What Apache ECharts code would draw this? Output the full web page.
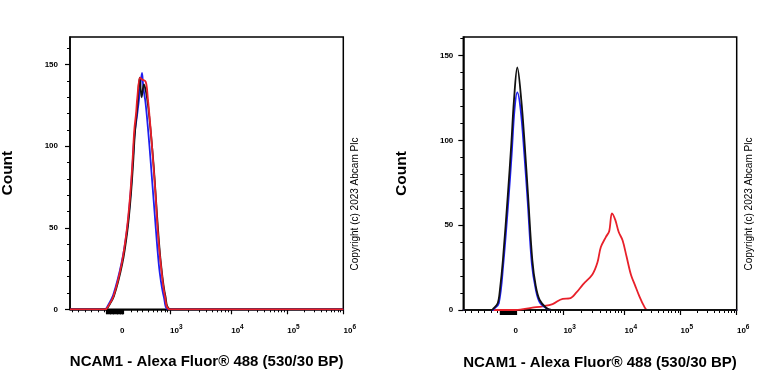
<!DOCTYPE html>
<html><head><meta charset="utf-8">
<script src="https://cdn.jsdelivr.net/npm/echarts@6/dist/echarts.min.js"></script>
<style>html,body{margin:0;padding:0;background:#fff}#c{width:768px;height:384px}</style>
</head><body><div id="c"></div>
<script>
// ---- Axis definitions (x in biexponential display units, 1 unit ≈ one decade) ----
const xTickLabels = ['0', '3', '4', '5', '6'];          // '0' and exponents of 10
const xTickPos = [0, 0.848, 1.94, 2.94, 3.946];
const xRange = [-0.934, 3.946];
const xLinearMinor = [-0.902, -0.786, -0.67, -0.554, -0.438, -0.321, 0.152, 0.259, 0.357, 0.455, 0.545, 0.625, 0.7, 0.759, 0.804];
const yMajor = [0, 50, 100, 150];
const yMinor = [10, 20, 30, 40, 60, 70, 80, 90, 110, 120, 130, 140, 160];
const yMaxLeft = 167, yMaxRight = 161;
const xTitle = 'NCAM1 - Alexa Fluor® 488 (530/30 BP)';
const yTitle = 'Count';
const copyright = 'Copyright (c) 2023 Abcam Plc';

// ---- Left panel histograms [position, count] ----
const leftRed = [[-0.934,0],[-0.3,0],[-0.279,0.5],[-0.161,7.7],[-0.011,28],[0.079,48.5],[0.138,69],[0.179,89],[0.214,110],[0.245,120],[0.268,130],[0.316,142],[0.352,141],[0.418,139.5],[0.454,130],[0.507,110],[0.554,89],[0.596,69],[0.632,48.5],[0.686,28],[0.763,7.7],[0.852,0],[3.946,0]];
const leftBlue = [[-0.934,0],[-0.31,0],[-0.27,1.5],[-0.16,9],[-0.01,29],[0.085,49],[0.145,70],[0.185,90],[0.22,108],[0.26,118],[0.295,128],[0.33,140],[0.352,145],[0.375,136],[0.41,128],[0.44,118],[0.485,100],[0.53,80],[0.575,60],[0.62,40],[0.67,22],[0.745,7],[0.83,0],[3.946,0]];
const leftBlack = [[-0.934,0],[-0.29,0],[-0.26,1],[-0.15,8],[0,28],[0.09,48],[0.148,68],[0.19,88],[0.225,108],[0.27,125],[0.31,142],[0.345,130],[0.385,138],[0.42,134],[0.46,125],[0.51,108],[0.56,88],[0.60,68],[0.64,48],[0.69,28],[0.77,8],[0.86,0],[3.946,0]];

// ---- Right panel histograms [position, count] ----
const rightBlack = [[-0.934,0],[-0.43,0],[-0.405,0.5],[-0.32,4],[-0.28,12],[-0.227,29.4],[-0.1375,68.6],[-0.077,98],[-0.03,123.5],[0.03,143],[0.102,123.5],[0.161,98],[0.22,68.6],[0.298,29.4],[0.36,14],[0.429,5.9],[0.548,1.2],[0.64,0],[3.946,0]];
const rightBlue = [[-0.934,0],[-0.41,0],[-0.39,0.5],[-0.30,4],[-0.22,27],[-0.13,64],[-0.07,92],[-0.02,118],[0.03,128.4],[0.09,118],[0.155,92],[0.215,64],[0.29,27],[0.36,12],[0.43,4.5],[0.55,1],[0.64,0],[3.946,0]];
const rightRed = [[-0.934,0],[0.0,0],[0.30,1.4],[0.48,2.2],[0.66,3.5],[0.84,6.6],[0.96,6.8],[1.09,10.5],[1.20,15],[1.37,21],[1.46,28],[1.52,37],[1.61,43],[1.67,46.5],[1.72,57],[1.78,53],[1.84,46],[1.91,41],[1.98,31.5],[2.06,20.6],[2.13,14.7],[2.20,8.8],[2.29,2.4],[2.35,0],[3.946,0]];

// ---- tick helpers ----
const blockTicks = [];
for (let v = -0.28; v <= 0.021; v += 0.014) blockTicks.push(+v.toFixed(3));
const decadeMinor = [];
for (let i = 1; i < xTickPos.length - 1; i++) {
  const a = xTickPos[i], b = xTickPos[i + 1];
  for (let k = 2; k <= 9; k++) decadeMinor.push(a + Math.log10(k) * (b - a));
}
const xMajorTicks = blockTicks.concat(xTickPos);
const xMinorTicks = xLinearMinor.concat(decadeMinor);

const FONT = 'Liberation Sans, Arial, sans-serif';
const panels = [
  {left: 70, width: 273.3, top: 37, height: 272.3, ymax: yMaxLeft, series: [['#1f1fef', leftBlue], ['#111111', leftBlack], ['#e8202a', leftRed]], copyX: 355},
  {left: 463.3, width: 273.4, top: 37, height: 273, ymax: yMaxRight, series: [['#e8202a', rightRed], ['#1f1fef', rightBlue], ['#111111', rightBlack]], copyX: 749}
];

function xLabelFmt(v) {
  let idx = 0, best = 1e9;
  xTickPos.forEach((p, i) => { if (Math.abs(p - v) < best) { best = Math.abs(p - v); idx = i; } });
  return idx === 0 ? '{z|0}' : '{b|10}{s|' + xTickLabels[idx] + '}';
}

const grid = [], xAxis = [], yAxis = [], series = [], graphic = [];
panels.forEach((p, gi) => {
  grid.push({left: p.left, width: p.width, top: p.top, height: p.height, show: true, borderColor: '#000', borderWidth: 1.5, containLabel: false, outerBoundsMode: 'none'});
  xAxis.push({
    gridIndex: gi, type: 'value', min: xRange[0], max: xRange[1], position: 'bottom',
    name: xTitle, nameLocation: 'middle', nameGap: 45,
    nameTextStyle: {fontFamily: FONT, fontSize: 15, fontWeight: 'bold', color: '#000'},
    axisLine: {show: true, onZero: false, lineStyle: {color: '#000', width: 1.5}},
    axisTick: {show: true, customValues: xMajorTicks, length: 5, lineStyle: {color: '#000', width: 1.2}},
    axisLabel: {show: true, customValues: xTickPos, margin: 14, formatter: xLabelFmt,
      rich: {
        z: {fontFamily: FONT, fontSize: 8, fontWeight: 'bold', color: '#000', lineHeight: 11, verticalAlign: 'bottom'},
        b: {fontFamily: FONT, fontSize: 8, fontWeight: 'bold', color: '#000', lineHeight: 11, verticalAlign: 'bottom', padding: [0, 0, 0, 13]},
        s: {fontFamily: FONT, fontSize: 6.5, fontWeight: 'bold', color: '#000', lineHeight: 11, verticalAlign: 'top'}
      }},
    splitLine: {show: false}
  });
  xAxis.push({
    gridIndex: gi, type: 'value', min: xRange[0], max: xRange[1], position: 'bottom',
    axisLine: {show: false, onZero: false}, axisLabel: {show: false}, splitLine: {show: false},
    axisTick: {show: true, customValues: xMinorTicks, length: 3, lineStyle: {color: '#000', width: 1}}
  });
  yAxis.push({
    gridIndex: gi, type: 'value', min: 0, max: p.ymax, position: 'left',
    name: yTitle, nameLocation: 'middle', nameGap: 54,
    nameTextStyle: {fontFamily: FONT, fontSize: 15.5, fontWeight: 'bold', color: '#000'},
    axisLine: {show: true, onZero: false, lineStyle: {color: '#000', width: 1.5}},
    axisTick: {show: true, customValues: yMajor, length: 5, lineStyle: {color: '#000', width: 1.2}},
    axisLabel: {show: true, customValues: yMajor, margin: gi === 0 ? 12 : 10, fontFamily: FONT, fontSize: 8, fontWeight: 'bold', color: '#000'},
    splitLine: {show: false}
  });
  yAxis.push({
    gridIndex: gi, type: 'value', min: 0, max: p.ymax, position: 'left',
    axisLine: {show: false, onZero: false}, axisLabel: {show: false}, splitLine: {show: false},
    axisTick: {show: true, customValues: yMinor, length: 3, lineStyle: {color: '#000', width: 1}}
  });
  p.series.forEach(([color, data]) => {
    series.push({
      type: 'line', xAxisIndex: gi * 2, yAxisIndex: gi * 2, data: data,
      showSymbol: false, smooth: 0.35, clip: true, animation: false,
      lineStyle: {color: color, width: 1.8}
    });
  });
  graphic.push({
    type: 'text', x: p.copyX, y: 204, rotation: Math.PI / 2,
    style: {text: copyright, fontFamily: FONT, fontSize: 10, fill: '#000', align: 'center', verticalAlign: 'middle'}
  });
});

const chart = echarts.init(document.getElementById('c'), null, {renderer: 'canvas'});
chart.setOption({animation: false, backgroundColor: '#fff', grid, xAxis, yAxis, series, graphic});
</script>
</body></html>
